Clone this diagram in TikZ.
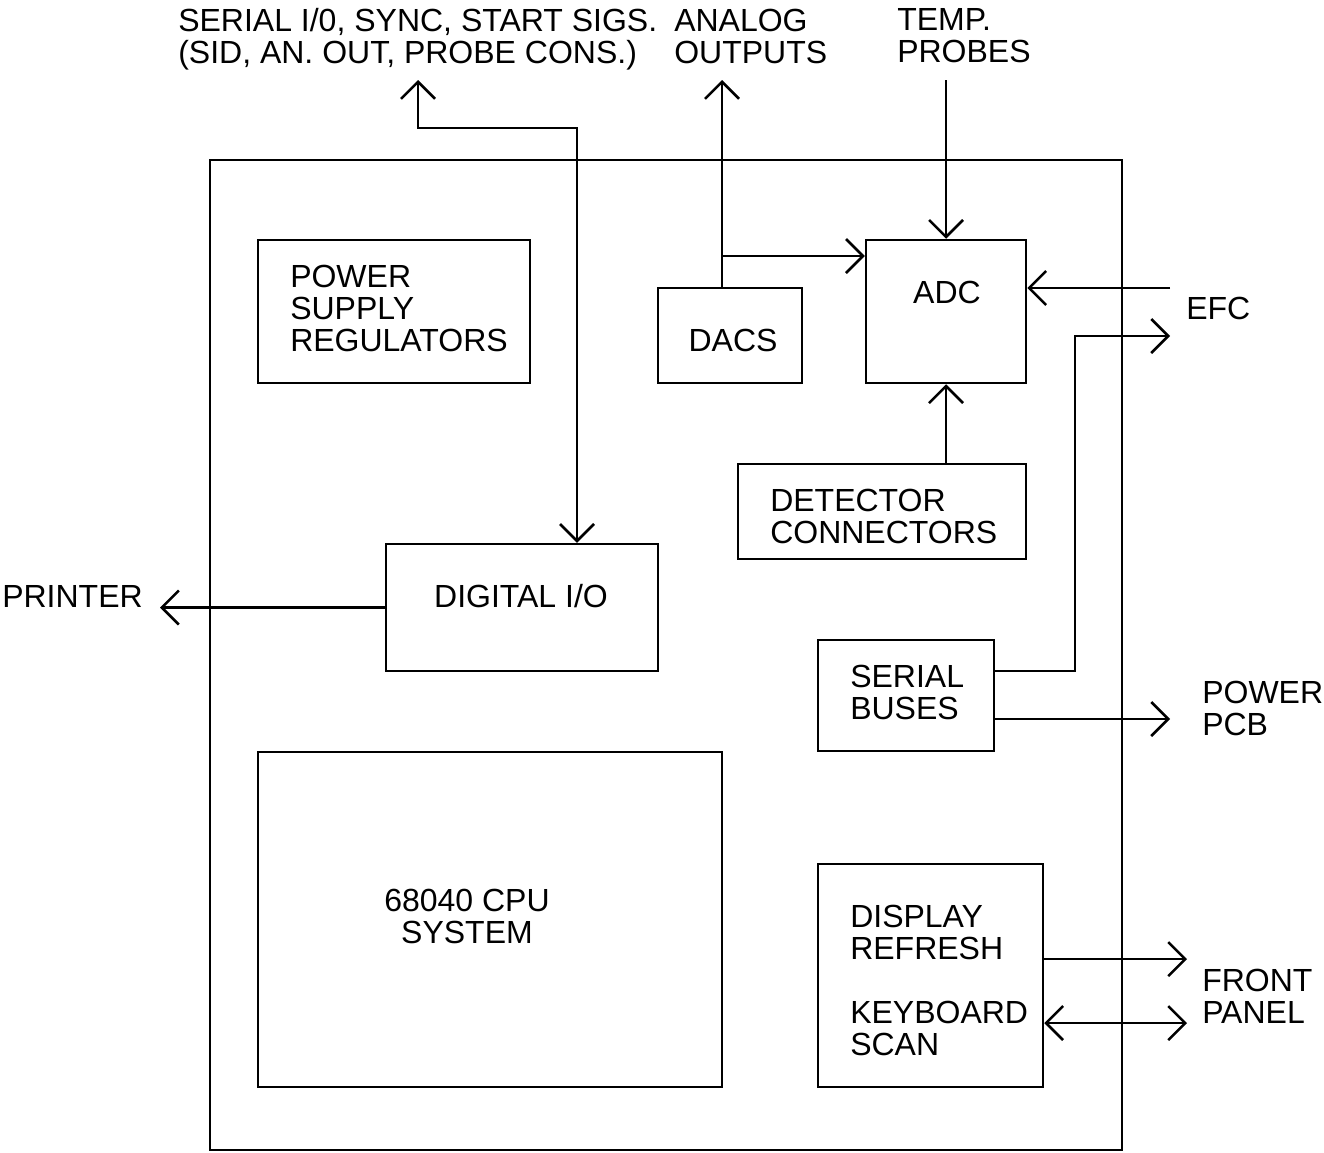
\documentclass[tikz,border=0pt]{standalone}
\usepackage{fontspec}
\setmainfont{Liberation Sans}
\usetikzlibrary{arrows.meta}

\begin{document}
\begin{tikzpicture}[>={Straight Barb[length=17pt,width=34pt]},x=1pt,y=-1pt,
    line width=2.5pt]
  \tikzstyle{blkbox}=[draw,line width=2.5pt,inner sep=0pt]
  \tikzstyle{lbl}=[inner sep=0pt,align=left,
    font=\fontsize{32}{32}\selectfont]
  \useasboundingbox (0,0) rectangle (1324,1152);
  % board and blocks
  \node[blkbox,minimum width=912,minimum height=990] (board) at (666,655) {};
  \node[blkbox,minimum width=272,minimum height=143] (psu) at (394,311.5) {};
  \node[blkbox,minimum width=144,minimum height=95] (dacs) at (730,335.5) {};
  \node[blkbox,minimum width=160,minimum height=143] (adc) at (946,311.5) {};
  \node[blkbox,minimum width=288,minimum height=95] (det) at (882,511.5) {};
  \node[blkbox,minimum width=272,minimum height=127] (dio) at (522,607.5) {};
  \node[blkbox,minimum width=176,minimum height=111] (sbus) at (906,695.5) {};
  \node[blkbox,minimum width=464,minimum height=335] (cpu) at (490,919.5) {};
  \node[blkbox,minimum width=225,minimum height=223] (disp) at (930.5,975.5) {};
  % block texts
  \node[lbl,anchor=west] (psu-t) at (289,308) {POWER\\SUPPLY\\REGULATORS};
  \node[lbl] (dacs-t) at (733,340) {DACS};
  \node[lbl] (adc-t) at (947,292) {ADC};
  \node[lbl,anchor=west] (det-t) at (769,516) {DETECTOR\\CONNECTORS};
  \node[lbl,anchor=base] (dio-t) at (521,607.5) {DIGITAL I/O};
  \node[lbl,anchor=west] (sbus-t) at (849,692) {SERIAL\\BUSES};
  \node[lbl,align=center] (cpu-t) at (467,916) {68040 CPU\\SYSTEM};
  \node[lbl,anchor=west] (disp-t) at (849,980)
    {DISPLAY\\REFRESH\\[32pt]KEYBOARD\\SCAN};
  % outside texts
  \node[lbl,anchor=west] (sio-t) at (177,39)
    {SERIAL I/0, SYNC, START SIGS.\\(SID, AN. OUT, PROBE CONS.)};
  \node[lbl,anchor=west] (ana-t) at (673,36) {ANALOG\\OUTPUTS};
  \node[lbl,anchor=west] (temp-t) at (896,36) {TEMP.\\PROBES};
  \node[lbl,anchor=west] (efc-t) at (1185,308) {EFC};
  \node[lbl,anchor=west] (pcb-t) at (1201,708) {POWER\\PCB};
  \node[lbl,anchor=west] (fp-t) at (1201,996) {FRONT\\PANEL};
  \node[lbl,anchor=west] (prn-t) at (1,596) {PRINTER};
  % free ends
  \coordinate (sio) at (418,80);
  \coordinate (sio-bend) at (577,128);
  \coordinate (ana) at (722,80);
  \coordinate (ana-br) at (722,256);
  \coordinate (temp) at (946,80);
  \coordinate (efc-in) at (1170,288);
  \coordinate (efc-out) at (1170,336);
  \coordinate (efc-bend) at (1075,671);
  \coordinate (pcb) at (1170,719);
  \coordinate (prn) at (160,607.5);
  \coordinate (fp-a) at (1187,959);
  \coordinate (fp-b) at (1187,1023);
  % connectors
  \draw[<->] (sio) |- (sio-bend) -- (sio-bend |- dio.north);
  \draw[->] (dacs.north -| ana) -- (ana);
  \draw[->] (ana-br) -- (ana-br -| adc.west);
  \draw[->] (temp) -- (adc.north);
  \draw[->] (efc-in) -- (efc-in -| adc.east);
  \draw[->] (sbus.east |- efc-bend) -- (efc-bend) |- (efc-out);
  \draw[->] (sbus.east |- pcb) -- (pcb);
  \draw[->] (det.north -| adc.south) -- (adc.south);
  \draw[->] (dio.west) -- (prn);
  \draw[->] (disp.east |- fp-a) -- (fp-a);
  \draw[<->] (disp.east |- fp-b) -- (fp-b);
\end{tikzpicture}
\end{document}
